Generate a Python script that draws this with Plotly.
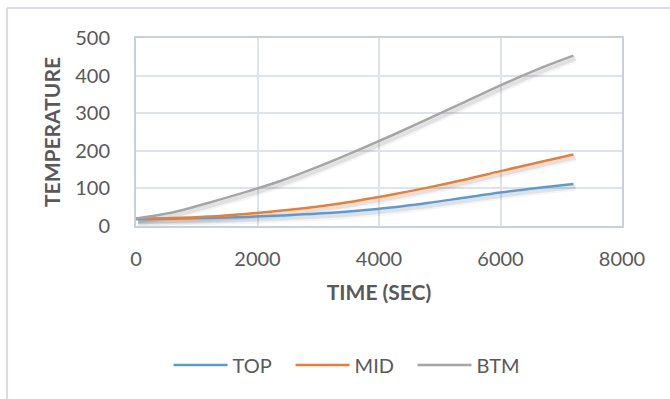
import plotly.graph_objects as go

# Time in seconds and temperature readings for the three probe positions
time_sec = [0, 600, 1200, 1800, 2400, 3000, 3600, 4200, 4800, 5400, 6000, 6600, 7200]
temp_top = [18, 19, 21, 24, 28, 33, 40, 49, 61, 75, 89, 101, 112]
temp_mid = [20, 21, 25, 32, 41, 52, 66, 83, 102, 123, 146, 168, 190]
temp_btm = [20, 36, 62, 90, 121, 158, 198, 240, 284, 329, 374, 416, 453]

x_ticks = [0, 2000, 4000, 6000, 8000]
y_ticks = [0, 100, 200, 300, 400, 500]

series = [
    ("TOP", temp_top, "#5B9BD5"),
    ("MID", temp_mid, "#ED7D31"),
    ("BTM", temp_btm, "#A5A5A5"),
]

FONT = "Lato, 'Open Sans', sans-serif"
TEXT = "#595959"
GRID = "#DEE2E9"
AXIS = "#C9D0DA"

fig = go.Figure()

# soft drop shadow under each line (offset a little right and down)
shadow_dx = 35
shadow_dy = 8
for name, vals, color in series:
    sx = [t + shadow_dx for t in time_sec]
    sy = [v - shadow_dy for v in vals]
    for w, a in ((8, 0.04), (4, 0.08)):
        fig.add_trace(go.Scatter(
            x=sx, y=sy, mode="lines",
            line=dict(color=f"rgba(0,0,0,{a})", width=w, shape="spline", smoothing=1.0),
            hoverinfo="skip", showlegend=False,
        ))

for name, vals, color in series:
    fig.add_trace(go.Scatter(
        x=time_sec, y=vals, mode="lines", name=name,
        line=dict(color=color, width=2.5, shape="spline", smoothing=1.0),
    ))

fig.update_layout(
    width=670, height=399,
    margin=dict(l=136, r=48, t=38, b=173),
    paper_bgcolor="white", plot_bgcolor="white",
    font=dict(family=FONT, color=TEXT, size=20),
    showlegend=True,
    legend=dict(
        orientation="h", x=0.067, xanchor="left", y=-0.74, yanchor="middle",
        font=dict(size=20, color=TEXT), itemwidth=54,
        entrywidth=53, entrywidthmode="pixels", traceorder="normal",
    ),
    shapes=[
        # outer chart frame (top and left edges)
        dict(type="line", xref="paper", yref="paper",
             x0=-0.2654, y0=1.1596, x1=1.12, y1=1.1596,
             line=dict(color="#D9DDE3", width=2)),
        dict(type="line", xref="paper", yref="paper",
             x0=-0.2654, y0=1.1596, x1=-0.2654, y1=-0.95,
             line=dict(color="#D9DDE3", width=2)),
    ],
)

fig.update_xaxes(
    range=[0, 8000], tickvals=x_ticks, showgrid=True, gridcolor=GRID, gridwidth=2,
    showline=True, linecolor=AXIS, linewidth=2, mirror=True, zeroline=False,
    ticks="", ticklabelstandoff=14, tickfont=dict(size=20, color=TEXT),
    title=dict(text="<b>TIME (SEC)</b>", font=dict(size=21, color=TEXT), standoff=16),
)
fig.update_yaxes(
    range=[0, 500], tickvals=y_ticks, showgrid=True, gridcolor=GRID, gridwidth=2,
    showline=True, linecolor=AXIS, linewidth=2, mirror=True, zeroline=False,
    ticks="", ticklabelstandoff=20, tickfont=dict(size=20, color=TEXT),
    title=dict(text="<b>TEMPERATURE</b>", font=dict(size=21, color=TEXT), standoff=9),
)

fig.write_html("out.html")
